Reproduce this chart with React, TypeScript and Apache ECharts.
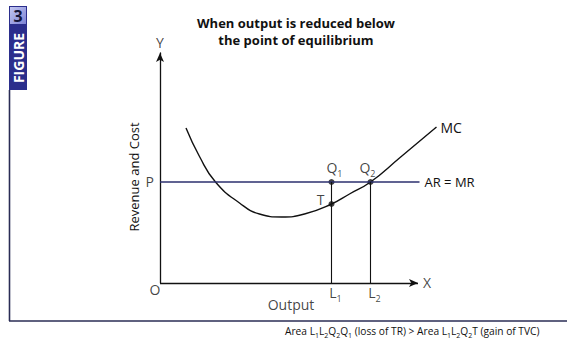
import React, { useEffect, useRef } from "react";
import * as echarts from "echarts";

// Marginal cost curve (output, revenue/cost)
const mcOutput = [26, 39.5, 55.5, 79.5, 99.5, 121.5, 144.5, 171.5, 189.5, 210.5, 239.5, 276.5];
const mcCost = [155, 126.5, 101, 80, 69, 66, 69, 79, 89, 101, 125, 156];

const priceP = 101; // AR = MR level
const outL1 = 171.5;
const outL2 = 210.5;
const costT = 79;
const axisXEnd = 258; // end of the drawn X axis
const arEnd = 259.5;
const xMax = 290;
const yMax = 230;

const FONT = "Open Sans";

const sub = (main: string, s: string) => `{m|${main}}{s|${s}}`;
const plain = (t: string) => `{m|${t}}`;
const richLabel = {
  m: { fontSize: 14, lineHeight: 17, padding: [0, 0, 4, 0], verticalAlign: "bottom", fontFamily: FONT, color: "#111" },
  s: { fontSize: 9, lineHeight: 11, verticalAlign: "bottom", fontFamily: FONT, color: "#111" },
};

export default function App() {
  const ref = useRef<HTMLDivElement>(null);
  useEffect(() => {
    if (!ref.current) return;
    const chart = echarts.init(ref.current, undefined, { renderer: "svg" });
    const mcData = mcOutput.map((x, i) => [x, mcCost[i]]);
    const lbl = (extra: any) => ({ show: true, fontFamily: FONT, fontSize: 14, color: "#111", rich: richLabel, ...extra });
    chart.setOption({
      animation: false,
      backgroundColor: "#fff",
      title: {
        text: "When output is reduced below\nthe point of equilibrium",
        left: 291,
        top: 9,
        textAlign: "center",
        textStyle: { fontFamily: FONT, fontSize: 13, fontWeight: "bold", lineHeight: 17, color: "#111" },
      },
      grid: { left: 160, top: 53, width: xMax, height: yMax },
      xAxis: {
        type: "value",
        min: 0,
        max: xMax,
        axisLine: { show: false },
        axisTick: { show: false },
        axisLabel: { show: false },
        splitLine: { show: false },
      },
      yAxis: {
        type: "value",
        min: 0,
        max: yMax,
        name: "Revenue and Cost",
        nameLocation: "middle",
        nameGap: 20,
        nameTextStyle: { fontFamily: FONT, fontSize: 13, color: "#111", padding: [0, 18, 0, 0] },
        axisLine: { show: true, symbol: ["none", "arrow"], symbolSize: [6, 9], lineStyle: { color: "#111", width: 1.3 } },
        axisTick: { show: false },
        axisLabel: { show: false },
        splitLine: { show: false },
      },
      graphic: [
        { type: "rect", shape: { x: 9, y: 6, width: 18, height: 84 }, style: { fill: "#2b2e8c" } },
        {
          type: "rect",
          shape: { x: 10, y: 7, width: 16, height: 17 },
          style: {
            fill: new echarts.graphic.LinearGradient(0, 0, 1, 1, [
              { offset: 0, color: "#c4c8f2" },
              { offset: 1, color: "#7c82d4" },
            ]),
          },
        },
        { type: "text", x: 18, y: 16, style: { text: "3", fontFamily: FONT, fontSize: 16, fontWeight: "bold", fill: "#14163a", align: "center", verticalAlign: "middle" } },
        { type: "text", x: 18.5, y: 58, rotation: Math.PI / 2, style: { text: "FIGURE", fontFamily: FONT, fontSize: 14, fontWeight: "bold", fill: "#fff", align: "center", verticalAlign: "middle" } },
        { type: "line", shape: { x1: 9.5, y1: 90, x2: 9.5, y2: 321 }, style: { stroke: "#2a2c55", lineWidth: 1.6 } },
        { type: "line", shape: { x1: 9, y1: 321, x2: 567, y2: 321 }, style: { stroke: "#2a2c55", lineWidth: 1.6 } },
        {
          type: "text",
          x: 285,
          y: 332,
          style: {
            text: "{m|Area L}{s|1}{m|L}{s|2}{m|Q}{s|2}{m|Q}{s|1}{m| (loss of TR) > Area L}{s|1}{m|L}{s|2}{m|Q}{s|2}{m|T (gain of TVC)}",
            verticalAlign: "middle",
            align: "left",
            rich: {
              m: { fontSize: 10.2, lineHeight: 13, padding: [0, 0, 3, 0], verticalAlign: "bottom", fontFamily: FONT, fill: "#111" },
              s: { fontSize: 7, lineHeight: 9, verticalAlign: "bottom", fontFamily: FONT, fill: "#111" },
            },
          },
        },
      ],
      series: [
        {
          type: "line",
          data: mcData,
          smooth: 0.5,
          showSymbol: false,
          lineStyle: { color: "#111", width: 1.4 },
          endLabel: { show: true, formatter: "MC", fontFamily: FONT, fontSize: 14, color: "#111", distance: 4 },
        },
        {
          type: "line",
          data: [[0, priceP], [arEnd, priceP]],
          showSymbol: false,
          lineStyle: { color: "#2b2f6e", width: 1.4 },
          endLabel: { show: true, formatter: "AR = MR", fontFamily: FONT, fontSize: 13, color: "#111", distance: 5 },
        },
        {
          type: "line",
          data: [[0, 0], [axisXEnd, 0]],
          showSymbol: false,
          lineStyle: { width: 0 },
          markLine: {
            silent: true,
            symbol: ["none", "arrow"],
            symbolSize: [6, 9],
            label: { show: false },
            lineStyle: { color: "#111", width: 1.3, type: "solid" },
            data: [[{ coord: [0, 0] }, { coord: [axisXEnd, 0] }]],
          },
        },
        {
          type: "line",
          data: [[outL1, 0], [outL1, priceP]],
          showSymbol: false,
          lineStyle: { color: "#111", width: 1.1 },
        },
        {
          type: "line",
          data: [[outL2, 0], [outL2, priceP]],
          showSymbol: false,
          lineStyle: { color: "#111", width: 1.1 },
        },
        {
          type: "scatter",
          symbolSize: 6,
          itemStyle: { color: "#111" },
          data: [
            { value: [outL1, priceP], label: lbl({ position: "top", formatter: sub("Q", "1"), offset: [3, 4] }) },
            { value: [outL1, costT], label: lbl({ position: "left", formatter: plain("T"), offset: [0, -2], distance: 4 }) },
            { value: [outL2, priceP], label: lbl({ position: "top", formatter: sub("Q", "2"), offset: [-3, 4] }) },
          ],
        },
        {
          type: "scatter",
          symbolSize: 0,
          silent: true,
          data: [
            { value: [0, priceP], label: lbl({ position: "left", formatter: plain("P"), distance: 6, offset: [0, 2] }) },
            { value: [0, 0], label: lbl({ position: "bottom", formatter: plain("O"), offset: [-5, -5] }) },
            { value: [outL1, 0], label: lbl({ position: "bottom", formatter: sub("L", "1"), offset: [4, -2] }) },
            { value: [outL2, 0], label: lbl({ position: "bottom", formatter: sub("L", "2"), offset: [4, -2] }) },
            { value: [131, 0], label: lbl({ position: "bottom", formatter: plain("Output"), distance: 15 }) },
            { value: [axisXEnd, 0], label: lbl({ position: "right", formatter: plain("X"), distance: 5, offset: [0, 2] }) },
            { value: [0, yMax], label: lbl({ position: "top", formatter: plain("Y"), distance: 4, offset: [0, 4] }) },
          ],
        },
      ],
    });
    return () => chart.dispose();
  }, []);
  return <div ref={ref} style={{ position: "fixed", left: 0, top: 0, width: 576, height: 351, background: "#fff" }} />;
}
